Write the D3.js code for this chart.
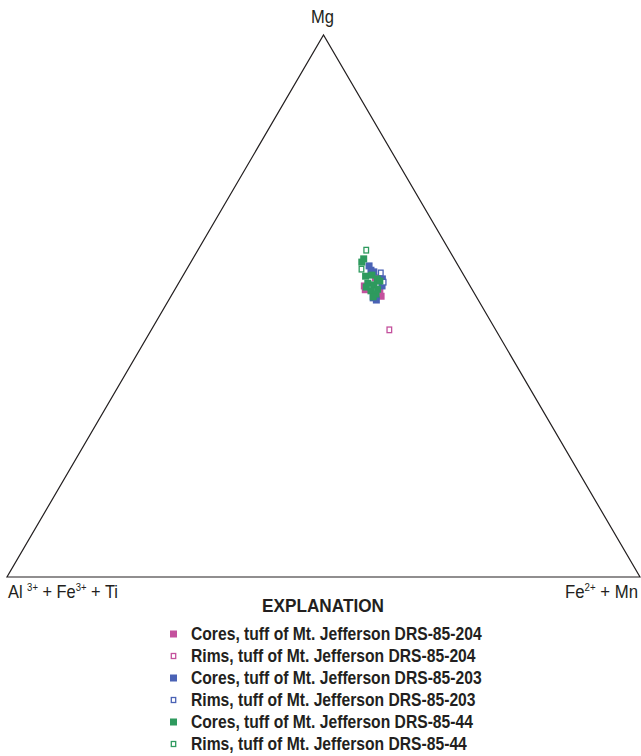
<!DOCTYPE html>
<html><head><meta charset="utf-8">
<script src="https://cdn.jsdelivr.net/npm/d3@7"></script>
<style>
body{margin:0;background:#fff;}
svg{display:block;}
text{font-family:"Liberation Sans","Arial",sans-serif;fill:#231f20;}
</style></head>
<body>
<script>
// Ternary data: [Mg, Fe2+ + Mn] fractions (Al3+ + Fe3+ + Ti = remainder)
const coresDRS204 = [[0.537,0.296],[0.530,0.301],[0.518,0.332],[0.526,0.326],[0.552,0.306]];
const rimsDRS204  = [[0.456,0.376]];
const coresDRS203 = [[0.574,0.285],[0.566,0.292],[0.550,0.318],[0.537,0.324],[0.511,0.328],[0.515,0.321],[0.563,0.298]];
const rimsDRS203  = [[0.561,0.310],[0.544,0.323]];
const coresDRS44  = [[0.587,0.270],[0.581,0.270],[0.555,0.289],[0.557,0.298],[0.550,0.310],[0.542,0.299],[0.539,0.310],[0.531,0.320],[0.528,0.311],[0.522,0.322],[0.517,0.320],[0.535,0.300],[0.546,0.316]];
const rimsDRS44   = [[0.603,0.266],[0.568,0.276]];

const seriesNames = ["Cores, tuff of Mt. Jefferson DRS-85-204","Rims, tuff of Mt. Jefferson DRS-85-204",
  "Cores, tuff of Mt. Jefferson DRS-85-203","Rims, tuff of Mt. Jefferson DRS-85-203",
  "Cores, tuff of Mt. Jefferson DRS-85-44","Rims, tuff of Mt. Jefferson DRS-85-44"];
const seriesData = [coresDRS204, rimsDRS204, coresDRS203, rimsDRS203, coresDRS44, rimsDRS44];
const seriesFilled = [true,false,true,false,true,false];
const seriesColors = ["#c4519d","#c4519d","#4a62b5","#4a62b5","#2e9a5e","#2e9a5e"];

(function(){
const W=641,H=756;
const svg=d3.select("body").append("svg").attr("width",W).attr("height",H);

// condense text horizontally (reference uses a condensed face)
function condense(sel, x0, factor){
  sel.attr("transform",`translate(${x0},0) scale(${factor},1) translate(${-x0},0)`);
}
function fit(sel, x0, target){
  const w=sel.node().getBBox().width;
  condense(sel, x0, target/w);
}

const vL={x:7,y:577}, vR={x:640,y:577}, vT={x:323.5,y:35};
const mgScale=d3.scaleLinear().domain([0,1]).range([vL.y, vT.y]);
const feScale=d3.scaleLinear().domain([0,1]).range([0, vR.x-vL.x]);
const offScale=d3.scaleLinear().domain([0,1]).range([vL.x, vT.x]);
function proj(d){ const mg=d[0], fe=d[1]; return [offScale(mg)+feScale(fe), mgScale(mg)]; }

svg.append("path")
  .attr("d", d3.line()([proj([0,0]),proj([0,1]),proj([1,0])])+"Z")
  .attr("fill","none").attr("stroke","#231f20").attr("stroke-width",1.2);

seriesData.forEach((arr,i)=>{
  const g=svg.append("g");
  arr.forEach(d=>{
    const p=proj(d);
    if(seriesFilled[i]){
      g.append("rect").attr("x",p[0]-3.5).attr("y",p[1]-3.5).attr("width",7).attr("height",7).attr("fill",seriesColors[i]);
    } else {
      g.append("rect").attr("x",p[0]-2.3).attr("y",p[1]-2.8).attr("width",4.6).attr("height",5.6)
        .attr("fill","#fff").attr("stroke",seriesColors[i]).attr("stroke-width",1.3);
    }
  });
});

const mg=svg.append("text").attr("x",322.5).attr("y",23).attr("text-anchor","middle").attr("font-size",19).text("Mg");
fit(mg,322.5,23);
const lt=svg.append("text").attr("x",8).attr("y",598).attr("font-size",19);
lt.append("tspan").text("Al ");
lt.append("tspan").attr("font-size",11).attr("dy",-7).text("3+");
lt.append("tspan").attr("dy",7).text(" + Fe");
lt.append("tspan").attr("font-size",11).attr("dy",-7).text("3+");
lt.append("tspan").attr("dy",7).text(" + Ti");
fit(lt,8,110);
const rt=svg.append("text").attr("x",638).attr("y",598).attr("text-anchor","end").attr("font-size",19);
rt.append("tspan").text("Fe");
rt.append("tspan").attr("font-size",11).attr("dy",-7).text("2+");
rt.append("tspan").attr("dy",7).text(" + Mn");
fit(rt,638,73);

const ex=svg.append("text").attr("x",323).attr("y",612).attr("text-anchor","middle").attr("font-size",19).attr("font-weight","bold").text("EXPLANATION");
fit(ex,323,122);
const legY=d3.scalePoint().domain(seriesNames).range([634,744]);
const legendTexts=[];
seriesNames.forEach((n,i)=>{
  const y=legY(n);
  if(seriesFilled[i]) svg.append("rect").attr("x",170).attr("y",y-3.5).attr("width",7).attr("height",7).attr("fill",seriesColors[i]);
  else svg.append("rect").attr("x",171.3).attr("y",y-2.5).attr("width",4.4).attr("height",5).attr("fill","#fff").attr("stroke",seriesColors[i]).attr("stroke-width",1.3);
  legendTexts.push(svg.append("text").attr("x",191).attr("y",y+6.5).attr("font-size",18).attr("font-weight","bold").text(n));
});
const f=291/legendTexts[0].node().getBBox().width;
legendTexts.forEach(t=>condense(t,191,f));
})();
</script>
</body></html>
